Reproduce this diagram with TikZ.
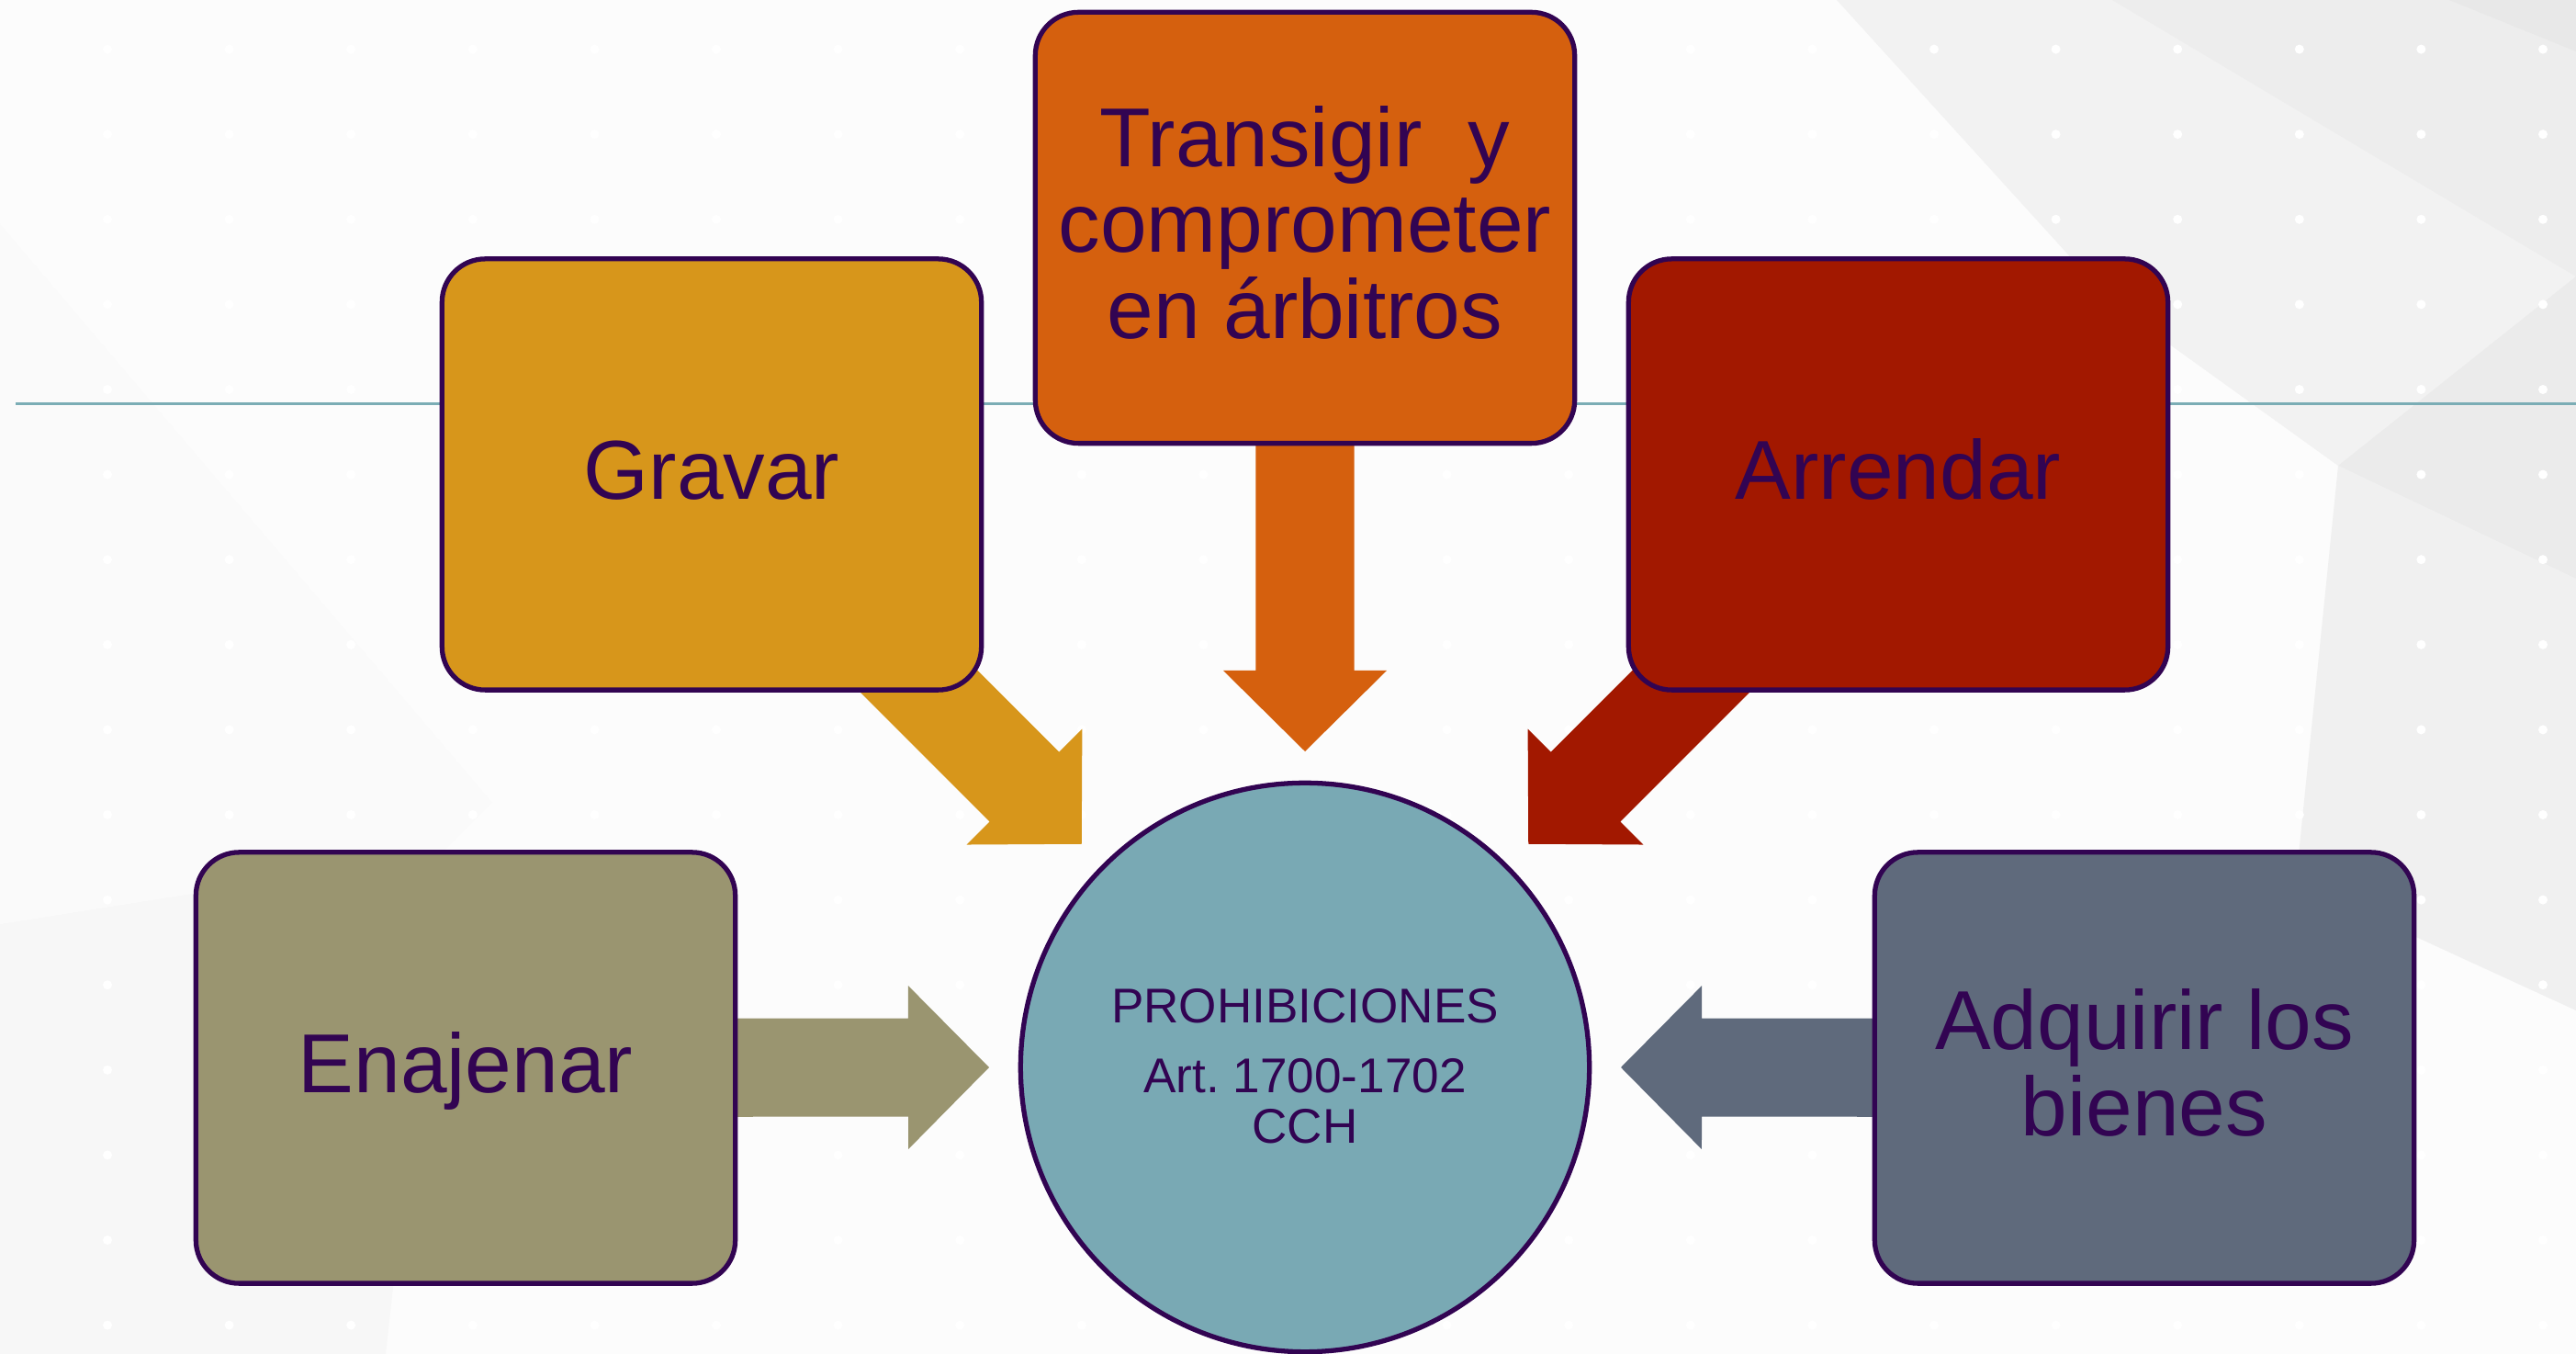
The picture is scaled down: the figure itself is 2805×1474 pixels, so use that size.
\documentclass[tikz,border=0pt]{standalone}
\usepackage{fontspec}
\setmainfont{Liberation Sans}
\usetikzlibrary{calc}
\pgfdeclarelayer{deco}
\pgfdeclarelayer{arrowlayer}
\pgfsetlayers{deco,arrowlayer,main}
\definecolor{strokec}{RGB}{50,4,82}
\definecolor{textc}{RGB}{50,4,82}
\definecolor{goldc}{RGB}{215,150,27}
\definecolor{orangec}{RGB}{213,96,14}
\definecolor{redc}{RGB}{162,24,0}
\definecolor{olivec}{RGB}{154,149,112}
\definecolor{slatec}{RGB}{95,106,124}
\definecolor{tealc}{RGB}{121,169,180}
\definecolor{linec}{RGB}{123,173,181}
\definecolor{bgc}{RGB}{252,252,252}
\frenchspacing
\newcommand{\blockarrow}[3]{%
  \path ($(#3)!0.88cm!(#2)$) coordinate (ahb);
  \fill[#1] ($(#2)!0.535cm!90:(#3)$) -- ($(ahb)!0.535cm!90:(#3)$)
     -- ($(ahb)!0.89cm!90:(#3)$) -- (#3) -- ($(ahb)!0.89cm!-90:(#3)$)
     -- ($(ahb)!0.535cm!-90:(#3)$) -- ($(#2)!0.535cm!-90:(#3)$) -- cycle;}
\begin{document}
\begin{tikzpicture}[x=0.01cm,y=-0.01cm,
  box/.style={draw=strokec, line width=1.5pt, rounded corners=0.47cm,
    minimum width=5.87cm, minimum height=4.69cm, inner sep=0pt,
    align=center, text=textc, font=\fontsize{25.9pt}{26.6pt}\selectfont,
    text height=20.7pt, text depth=5.34pt},
  hub/.style={circle, draw=strokec, line width=1.5pt, fill=tealc,
    minimum size=6.19cm, inner sep=0pt, align=center, text=textc,
    font=\fontsize{15.1pt}{15.65pt}\selectfont,
    text height=50.2pt, text depth=3pt}]
\useasboundingbox (0,0) rectangle (2805,1474);
% nodes
\node[hub] (prohib) at (1421,1162) {PROHIBICIONES\\[6.1pt]Art.\ 1700-1702\\CCH};
\node[box, fill=goldc] (gravar) at (775,516.5) {Gravar};
\node[box, fill=orangec, text height=73.9pt] (transigir) at (1421,248) {Transigir~~y\\comprometer\\en árbitros};
\node[box, fill=redc] (arrendar) at (2067,516.5) {Arrendar};
\node[box, fill=olivec] (enajenar) at (507,1162.5) {Enajenar};
\node[box, fill=slatec, text height=47.3pt] (adquirir) at (2335,1162.5) {Adquirir los\\bienes};
% arrow tips
\coordinate (tG) at ($(prohib.center)+(225:344)$);
\coordinate (tT) at ($(prohib.center)+(270:344)$);
\coordinate (tA) at ($(prohib.center)+(315:344)$);
\coordinate (tE) at ($(prohib.center)+(180:344)$);
\coordinate (tQ) at ($(prohib.center)+(0:344)$);
\begin{pgfonlayer}{arrowlayer}
  \blockarrow{goldc}{gravar.center}{tG}
  \blockarrow{orangec}{transigir.center}{tT}
  \blockarrow{redc}{arrendar.center}{tA}
  \blockarrow{olivec}{enajenar.center}{tE}
  \blockarrow{slatec}{adquirir.center}{tQ}
\end{pgfonlayer}
\begin{pgfonlayer}{deco}
  \fill[bgc] (0,0) rectangle (2805,1474);
  \fill[black!5] (2000,0) -- (2805,0) -- (2805,1000) -- (2560,1000) -- (2546,507) -- (2300,330) -- cycle;
  \fill[black!7] (2300,0) -- (2805,0) -- (2805,301) -- cycle;
  \fill[black!9] (2667,0) -- (2805,0) -- (2805,56) -- cycle;
  \fill[black!8] (2546,507) -- (2805,301) -- (2805,630) -- cycle;
  \fill[black!6] (2546,507) -- (2805,630) -- (2805,1100) -- (2500,960) -- cycle;
  \fill[black!3] (0,1006) -- (480,930) -- (420,1474) -- (0,1474) -- cycle;
  \fill[black!2] (0,244) -- (536,874) -- (480,930) -- (0,1006) -- cycle;
  \foreach \i in {0,...,20}{
    \foreach \j in {0,...,15}{
      \fill[white] (117+132.6*\i, 53.6+92.6*\j) circle[radius=0.05cm];
    }
  }
  \draw[linec, line width=0.85pt] (17,440) -- (2805,440);
\end{pgfonlayer}
\end{tikzpicture}
\end{document}
